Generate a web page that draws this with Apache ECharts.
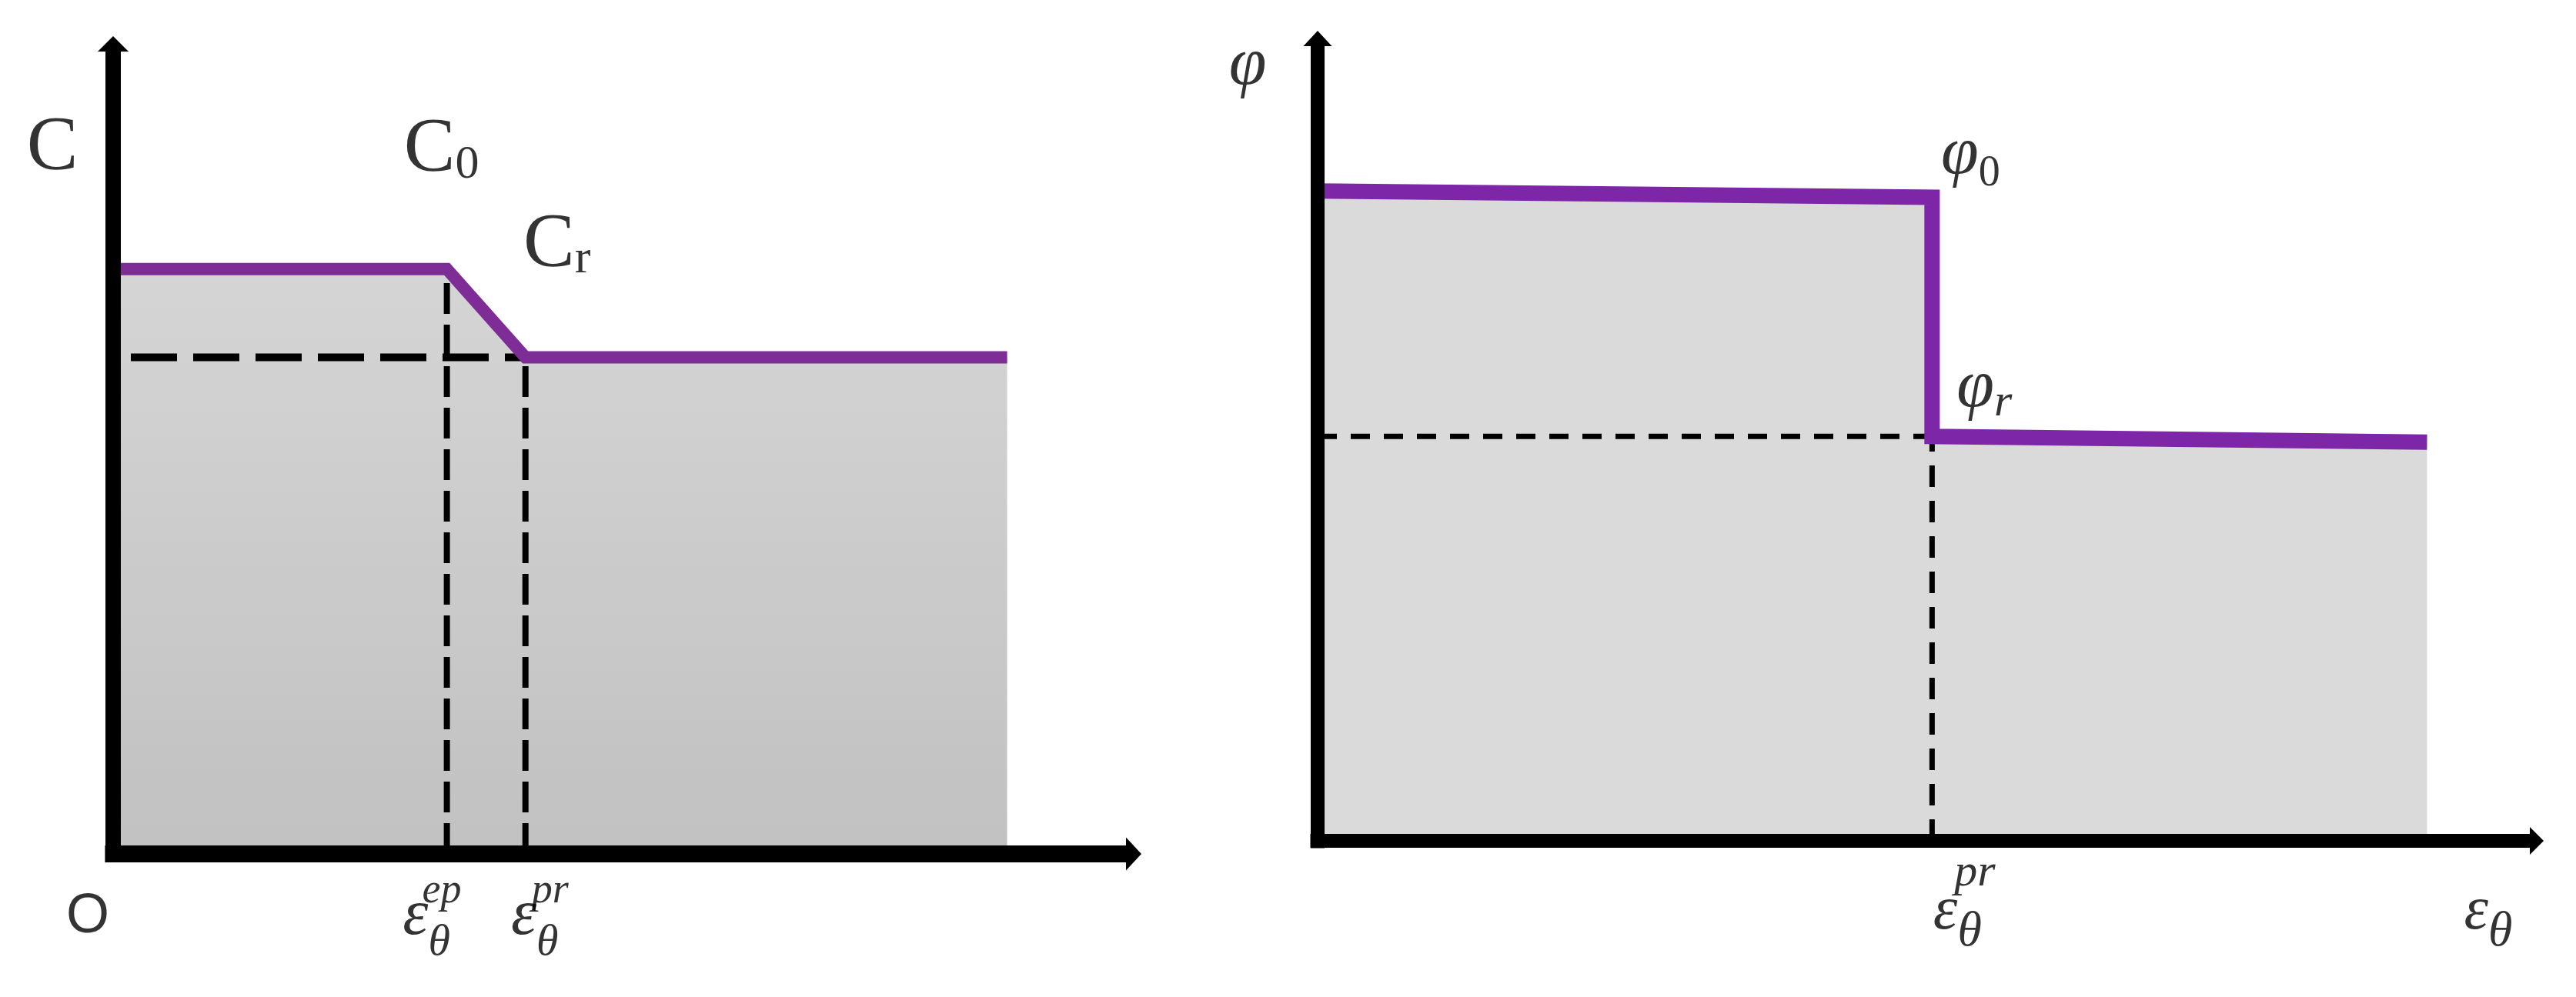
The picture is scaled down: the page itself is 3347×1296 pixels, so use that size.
<!DOCTYPE html>
<html>
<head>
<meta charset="utf-8">
<title>C / φ 软化曲线</title>
<script src="https://cdn.jsdelivr.net/npm/echarts@6/dist/echarts.min.js"></script>
<style>
  html, body { margin: 0; padding: 0; background: #fff; }
  #chart { width: 3347px; height: 1296px; }
</style>
</head>
<body>
<div id="chart"></div>
<script>
  // 左图：粘聚力 C 随应变变化（峰值 -> 软化 -> 残余）
  var cStrain = [0, 3.27, 4.04, 8.76];
  var cValue = [7.22, 7.22, 6.13, 6.13];
  // 右图：内摩擦角 φ 随应变变化（突降）
  var phiStrain = [0, 5.04, 5.04, 9.10];
  var phiValue = [8.10, 8.02, 5.04, 4.97];
  var axisMax = 10;

  // 标注文字
  var leftNames = ['C', 'C0', 'Cr', 'O', 'εθep', 'εθpr'];
  var rightNames = ['φ', 'φ0', 'φr', 'εθpr', 'εθ'];

  var serif = "'Liberation Serif', 'Times New Roman', serif";
  var sans = "'Liberation Sans', Arial, sans-serif";
  var rich = {
    cap: {fontFamily: serif, fontSize: 100, color: '#000'},
    capSub: {fontFamily: serif, fontSize: 62, color: '#000', padding: [39, 0, 0, 0], lineHeight: 100},
    axO: {fontFamily: sans, fontSize: 72, color: '#000'},
    epsL: {fontFamily: serif, fontStyle: 'italic', fontSize: 84, color: '#000', lineHeight: 36},
    thetaL: {fontFamily: serif, fontStyle: 'italic', fontSize: 58, color: '#000', padding: [68, 0, 0, 0], lineHeight: 36},
    supL: {fontFamily: serif, fontStyle: 'italic', fontSize: 54, color: '#000', lineHeight: 30},
    gapL: {fontSize: 10, width: 40, lineHeight: 30},
    phi: {fontFamily: serif, fontStyle: 'italic', fontSize: 88, color: '#000'},
    phiSub0: {fontFamily: serif, fontSize: 56, color: '#000', padding: [49, 0, 0, 0], lineHeight: 88},
    phiSubR: {fontFamily: serif, fontStyle: 'italic', fontSize: 60, color: '#000', padding: [37, 0, 0, 0], lineHeight: 88},
    epsR: {fontFamily: serif, fontStyle: 'italic', fontSize: 80, color: '#000', lineHeight: 56},
    thetaR: {fontFamily: serif, fontStyle: 'italic', fontSize: 64, color: '#000', padding: [53, 0, 0, 0], lineHeight: 56},
    supR: {fontFamily: serif, fontStyle: 'italic', fontSize: 60, color: '#000', lineHeight: 45},
    gapR: {fontSize: 10, width: 45, lineHeight: 45}
  };

  function pts(xs, ys) {
    return xs.map(function (x, i) { return [x, ys[i]]; });
  }
  function tag(x, y, text, dx, dy) {
    return {name: text, value: [x, y], label: {offset: [dx, dy]}};
  }
  function axisOf(gridIndex, min, width) {
    return {
      gridIndex: gridIndex, type: 'value', min: min, max: axisMax, z: 10,
      axisLine: {
        show: true, onZero: true,
        lineStyle: {color: '#000', width: width, cap: 'butt'}
      },
      axisTick: {show: false},
      axisLabel: {show: false},
      splitLine: {show: false}
    };
  }
  // 坐标轴末端箭头
  function arrows(gridIndex, sizeX, sizeY) {
    return {
      type: 'scatter', xAxisIndex: gridIndex, yAxisIndex: gridIndex, z: 11, silent: true,
      clip: false, symbol: 'triangle', itemStyle: {color: '#000', opacity: 1},
      data: [
        {value: [axisMax, 0], symbolSize: sizeX, symbolRotate: -90},
        {value: [0, axisMax], symbolSize: sizeY, symbolRotate: 0}
      ]
    };
  }

  var leftLine = pts(cStrain, cValue);
  var rightLine = pts(phiStrain, phiValue);
  var textLabel = {
    show: true, position: 'inside', rich: rich,
    textBorderWidth: 0,
    formatter: function (p) { return p.name; }
  };

  var myChart = echarts.init(document.getElementById('chart'));
  myChart.setOption({
    animation: false,
    backgroundColor: '#fff',
    grid: [
      {left: 136.4, right: 1874, top: 57, bottom: 175.5, outerBoundsMode: 'none'},
      {left: 1702.5, right: 51, top: 50, bottom: 193.6, outerBoundsMode: 'none'}
    ],
    xAxis: [axisOf(0, -0.08, 22), axisOf(1, -0.06, 18)],
    yAxis: [axisOf(0, -0.1, 20), axisOf(1, -0.09, 18)],
    series: [
      // 左图灰色填充
      {
        type: 'line', xAxisIndex: 0, yAxisIndex: 0, z: 1, silent: true,
        data: leftLine, symbol: 'none', lineStyle: {width: 0},
        areaStyle: {
          opacity: 1,
          color: new echarts.graphic.LinearGradient(0, 0, 0, 1, [
            {offset: 0, color: '#d5d5d5'},
            {offset: 1, color: '#c1c1c1'}
          ])
        }
      },
      // 左图虚线
      {
        type: 'line', xAxisIndex: 0, yAxisIndex: 0, z: 2, silent: true, symbol: 'none',
        data: [[0, cValue[2]], [cStrain[2], cValue[2]]],
        lineStyle: {color: '#000', width: 10, type: [60, 21], dashOffset: 58}
      },
      {
        type: 'line', xAxisIndex: 0, yAxisIndex: 0, z: 2, silent: true, symbol: 'none',
        data: [[cStrain[1], 0], [cStrain[1], cValue[1]]],
        lineStyle: {color: '#000', width: 8, type: [40, 14]}
      },
      {
        type: 'line', xAxisIndex: 0, yAxisIndex: 0, z: 2, silent: true, symbol: 'none',
        data: [[cStrain[2], 0], [cStrain[2], cValue[2]]],
        lineStyle: {color: '#000', width: 8, type: [40, 14]}
      },
      // 左图紫色曲线
      {
        type: 'line', xAxisIndex: 0, yAxisIndex: 0, z: 3, silent: true,
        data: leftLine, symbol: 'none',
        lineStyle: {color: '#7e2d97', width: 16, join: 'miter'}
      },
      // 右图灰色填充
      {
        type: 'line', xAxisIndex: 1, yAxisIndex: 1, z: 1, silent: true,
        data: rightLine, symbol: 'none', lineStyle: {width: 0},
        areaStyle: {opacity: 1, color: '#dadada'}
      },
      // 右图虚线
      {
        type: 'line', xAxisIndex: 1, yAxisIndex: 1, z: 2, silent: true, symbol: 'none',
        data: [[0, phiValue[2]], [phiStrain[2], phiValue[2]]],
        lineStyle: {color: '#000', width: 7, type: [25, 18]}
      },
      {
        type: 'line', xAxisIndex: 1, yAxisIndex: 1, z: 2, silent: true, symbol: 'none',
        data: [[phiStrain[2], 0], [phiStrain[2], phiValue[2]]],
        lineStyle: {color: '#000', width: 7, type: [28, 18]}
      },
      // 右图紫色曲线
      {
        type: 'line', xAxisIndex: 1, yAxisIndex: 1, z: 3, silent: true,
        data: rightLine, symbol: 'none',
        lineStyle: {color: '#7d27a8', width: 20, join: 'miter'}
      },
      arrows(0, [43, 20], [40, 20]),
      arrows(1, [36, 18], [37, 20]),
      // 左图标注
      {
        type: 'scatter', xAxisIndex: 0, yAxisIndex: 0, z: 4, silent: true,
        symbolSize: 1, itemStyle: {color: 'rgba(0,0,0,0)'},
        label: textLabel,
        data: [
          tag(0, cValue[0], '{cap|' + leftNames[0] + '}', -79, -157),
          tag(cStrain[1], cValue[1], '{cap|C}{capSub|0}', -7, -155),
          tag(cStrain[2], cValue[2], '{cap|C}{capSub|r}', 41, -146),
          tag(0, 0, '{axO|' + leftNames[3] + '}', -33, 82),
          tag(cStrain[1], 0, '{gapL| }{supL|ep}\n{epsL|ε}{thetaL|θ}', -26.5, 66.5),
          tag(cStrain[2], 0, '{gapL| }{supL|pr}\n{epsL|ε}{thetaL|θ}', 12, 66.5)
        ]
      },
      // 右图标注
      {
        type: 'scatter', xAxisIndex: 1, yAxisIndex: 1, z: 4, silent: true,
        symbolSize: 1, itemStyle: {color: 'rgba(0,0,0,0)'},
        label: textLabel,
        data: [
          tag(0, phiValue[0], '{phi|' + rightNames[0] + '}', -91, -162),
          tag(phiStrain[1], phiValue[1], '{phi|φ}{phiSub0|0}', 50, -55),
          tag(phiStrain[2], phiValue[2], '{phi|φ}{phiSubR|r}', 68, -62),
          tag(phiStrain[2], 0, '{gapR| }{supR|pr}\n{epsR|ε}{thetaR|θ}', 33, 70.5),
          tag(axisMax, 0, '{epsR|ε}{thetaR|θ}', -63, 93)
        ]
      }
    ]
  });
</script>
</body>
</html>
